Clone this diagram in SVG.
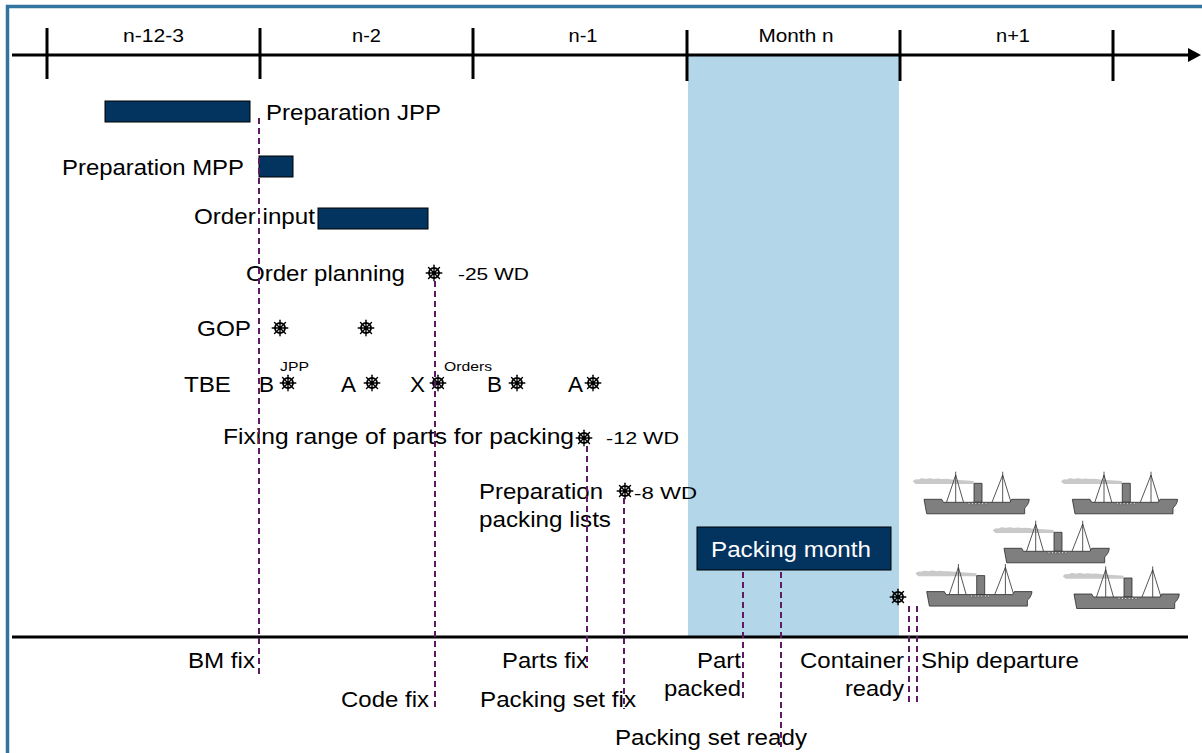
<svg xmlns="http://www.w3.org/2000/svg" xmlns:xlink="http://www.w3.org/1999/xlink" width="1202" height="753" viewBox="0 0 1202 753">
  <style>
    text { font-family: "Liberation Sans", Arial, sans-serif; fill: #000; }
    .big { font-size: 22px; }
    .mid { font-size: 17px; }
    .sm { font-size: 13px; }
    .hdr { font-size: 18px; text-anchor: middle; }
    .end { text-anchor: end; }
    .axis { stroke: #000; stroke-width: 3; fill: none; }
    .tick { stroke: #000; stroke-width: 3; }
    .bar { fill: #03335F; stroke: #000; stroke-width: 1; }
    .guide { stroke: #5E1B63; stroke-width: 2; stroke-dasharray: 6 4; fill: none; }
    .hull { fill: #7F7F7F; stroke: #2B2B2B; stroke-width: 0.8; stroke-linejoin: round; }
    .rig { stroke: #2B2B2B; stroke-width: 0.8; fill: none; }
    .smoke { fill: #C9C9C9; }
  </style>
  <defs>
    <!-- ship's wheel milestone marker -->
    <g id="wheel">
      <g stroke="#000" stroke-width="1.4" stroke-linecap="round">
        <line x1="0" y1="-7.8" x2="0" y2="7.8"/>
        <line x1="-7.8" y1="0" x2="7.8" y2="0"/>
        <line x1="-5.5" y1="-5.5" x2="5.5" y2="5.5"/>
        <line x1="-5.5" y1="5.5" x2="5.5" y2="-5.5"/>
      </g>
      <circle r="5" fill="none" stroke="#000" stroke-width="1.9"/>
      <circle r="1.9" fill="#000"/>
    </g>
    <!-- steamship icon -->
    <g id="ship">
      <path class="smoke" d="M12.7,31.5 q2,-3 6,-2 q3,-2 7,-0.5 q4,-1.5 8,0 q4,-1 8,0 q5,-0.5 10,0.5 l22,1.5 l0,3 l-58,0 z"/>
      <rect class="hull" x="74" y="33.3" width="8" height="19"/>
      <path class="rig" d="M55.7,21.7 V52.3 M55.7,25 L46.5,52.3 M55.7,25 L63.5,52.3 M102.7,21.7 V52.3 M102.7,25 L92,52.3 M102.7,25 L111,52.3"/>
      <path class="hull" d="M24,49.3 L41.7,49.3 L43.4,52.3 L110,52.3 L111.7,49.3 L129.3,49.3 C129,53.5 126.5,56.5 124.7,58 L124.7,63.8 L26.7,63.8 Z"/>
      <g fill="#fff" stroke="#2B2B2B" stroke-width="0.5">
        <circle cx="69" cy="53.8" r="1"/>
        <circle cx="72.4" cy="53.8" r="1"/>
        <circle cx="75.8" cy="53.8" r="1"/>
        <circle cx="79.2" cy="53.8" r="1"/>
        <circle cx="82.6" cy="53.8" r="1"/>
        <circle cx="86" cy="53.8" r="1"/>
      </g>
    </g>
  </defs>

  <!-- frame -->
  <rect x="7.5" y="6.5" width="1210" height="770" fill="#fff" stroke="#31749E" stroke-width="3.5"/>

  <!-- packing month highlight -->
  <rect id="month-n-band" x="688" y="55.5" width="211" height="581.5" fill="#B3D7E8"/>

  <!-- time axis -->
  <g id="time-axis">
    <line class="axis" x1="12" y1="55" x2="1190" y2="55"/>
    <polygon points="1188,48 1201,55 1188,62" fill="#000"/>
    <line class="tick" x1="47" y1="28" x2="47" y2="79"/>
    <line class="tick" x1="260" y1="28" x2="260" y2="79"/>
    <line class="tick" x1="473" y1="28" x2="473" y2="79"/>
    <line class="tick" x1="687" y1="30" x2="687" y2="81"/>
    <line class="tick" x1="900" y1="30" x2="900" y2="81"/>
    <line class="tick" x1="1113" y1="30" x2="1113" y2="81"/>
    <text class="hdr" x="153.5" y="42" textLength="61" lengthAdjust="spacingAndGlyphs">n-12-3</text>
    <text class="hdr" x="366.5" y="42" textLength="29" lengthAdjust="spacingAndGlyphs">n-2</text>
    <text class="hdr" x="583" y="42" textLength="29" lengthAdjust="spacingAndGlyphs">n-1</text>
    <text class="hdr" x="796" y="42" textLength="75" lengthAdjust="spacingAndGlyphs">Month n</text>
    <text class="hdr" x="1013" y="42" textLength="34" lengthAdjust="spacingAndGlyphs">n+1</text>
  </g>

  <!-- baseline of milestones -->
  <line id="milestone-axis" class="axis" x1="12" y1="637" x2="1188" y2="637"/>

  <!-- activity bars -->
  <g id="prep-jpp">
    <rect class="bar" x="105" y="101" width="145" height="21"/>
    <text class="big" x="266" y="120" textLength="175" lengthAdjust="spacingAndGlyphs">Preparation JPP</text>
  </g>
  <g id="prep-mpp">
    <rect class="bar" x="259" y="156" width="34" height="21"/>
    <text class="big end" x="244" y="175" textLength="182" lengthAdjust="spacingAndGlyphs">Preparation MPP</text>
  </g>
  <g id="order-input">
    <rect class="bar" x="318" y="208" width="110" height="21"/>
    <text class="big end" x="315" y="224" textLength="121" lengthAdjust="spacingAndGlyphs">Order input</text>
  </g>

  <!-- milestones -->
  <g id="order-planning">
    <text class="big" x="246" y="281" textLength="159" lengthAdjust="spacingAndGlyphs">Order planning</text>
    <use xlink:href="#wheel" x="434" y="273"/>
    <text class="mid" x="458" y="280" textLength="71" lengthAdjust="spacingAndGlyphs">-25 WD</text>
  </g>
  <g id="gop">
    <text class="big" x="197" y="336" textLength="54" lengthAdjust="spacingAndGlyphs">GOP</text>
    <use xlink:href="#wheel" x="280" y="328"/>
    <use xlink:href="#wheel" x="366" y="328"/>
  </g>
  <g id="tbe">
    <text class="big" x="184" y="392" textLength="47" lengthAdjust="spacingAndGlyphs">TBE</text>
    <text class="big" x="259" y="392" textLength="15" lengthAdjust="spacingAndGlyphs">B</text>
    <text class="sm" x="280" y="371" textLength="29" lengthAdjust="spacingAndGlyphs">JPP</text>
    <use xlink:href="#wheel" x="288" y="383"/>
    <text class="big" x="341" y="392" textLength="15" lengthAdjust="spacingAndGlyphs">A</text>
    <use xlink:href="#wheel" x="372" y="383"/>
    <text class="big" x="410" y="392" textLength="15" lengthAdjust="spacingAndGlyphs">X</text>
    <text class="sm" x="444" y="371" textLength="48" lengthAdjust="spacingAndGlyphs">Orders</text>
    <use xlink:href="#wheel" x="438" y="383"/>
    <text class="big" x="487" y="392" textLength="15" lengthAdjust="spacingAndGlyphs">B</text>
    <use xlink:href="#wheel" x="517" y="383"/>
    <text class="big" x="568" y="392" textLength="15" lengthAdjust="spacingAndGlyphs">A</text>
    <use xlink:href="#wheel" x="593" y="383"/>
  </g>
  <g id="fixing-range">
    <text class="big" x="223" y="444" textLength="351" lengthAdjust="spacingAndGlyphs">Fixing range of parts for packing</text>
    <use xlink:href="#wheel" x="584" y="438"/>
    <text class="mid" x="606" y="444" textLength="73" lengthAdjust="spacingAndGlyphs">-12 WD</text>
  </g>
  <g id="packing-lists">
    <text class="big" x="479" y="499" textLength="124" lengthAdjust="spacingAndGlyphs">Preparation</text>
    <text class="big" x="479" y="527" textLength="132" lengthAdjust="spacingAndGlyphs">packing lists</text>
    <use xlink:href="#wheel" x="625" y="491"/>
    <text class="mid" x="634" y="499" textLength="63" lengthAdjust="spacingAndGlyphs">-8 WD</text>
  </g>
  <g id="packing-month">
    <rect x="697" y="527" width="194" height="43" fill="#03335F" stroke="#000" stroke-width="1"/>
    <text class="big" x="711" y="557" textLength="160" lengthAdjust="spacingAndGlyphs" style="fill:#fff">Packing month</text>
  </g>
  <g id="container-ready-marker">
    <use xlink:href="#wheel" x="898" y="597"/>
  </g>

  <!-- ships -->
  <g id="ships">
    <use xlink:href="#ship" x="900" y="450"/>
    <use xlink:href="#ship" x="1048.3" y="450"/>
    <use xlink:href="#ship" x="980" y="499"/>
    <use xlink:href="#ship" x="902.7" y="542.3"/>
    <use xlink:href="#ship" x="1050" y="544.7"/>
  </g>

  <!-- milestone labels below the axis -->
  <g id="bottom-labels">
    <text class="big end" x="255" y="668" textLength="67" lengthAdjust="spacingAndGlyphs">BM fix</text>
    <text class="big end" x="429" y="707" textLength="88" lengthAdjust="spacingAndGlyphs">Code fix</text>
    <text class="big" x="502" y="668" textLength="86" lengthAdjust="spacingAndGlyphs">Parts fix</text>
    <text class="big" x="480" y="707" textLength="156" lengthAdjust="spacingAndGlyphs">Packing set fix</text>
    <text class="big end" x="741" y="668" textLength="44" lengthAdjust="spacingAndGlyphs">Part</text>
    <text class="big end" x="741" y="696" textLength="77" lengthAdjust="spacingAndGlyphs">packed</text>
    <text class="big" x="615" y="745" textLength="192" lengthAdjust="spacingAndGlyphs">Packing set ready</text>
    <text class="big end" x="904" y="668" textLength="104" lengthAdjust="spacingAndGlyphs">Container</text>
    <text class="big end" x="904" y="696" textLength="59" lengthAdjust="spacingAndGlyphs">ready</text>
    <text class="big" x="921" y="668" textLength="158" lengthAdjust="spacingAndGlyphs">Ship departure</text>
  </g>

  <!-- dashed guide connectors -->
  <g id="connectors">
    <line class="guide" x1="259" y1="118" x2="259" y2="678"/>
    <line class="guide" x1="435" y1="281" x2="435" y2="709"/>
    <line class="guide" x1="587" y1="446" x2="587" y2="668"/>
    <line class="guide" x1="624" y1="498" x2="624" y2="709"/>
    <line class="guide" x1="743" y1="572" x2="743" y2="699"/>
    <line class="guide" x1="781" y1="572" x2="781" y2="747"/>
    <line class="guide" x1="909" y1="606" x2="909" y2="705"/>
    <line class="guide" x1="917" y1="606" x2="917" y2="705"/>
  </g>
</svg>
